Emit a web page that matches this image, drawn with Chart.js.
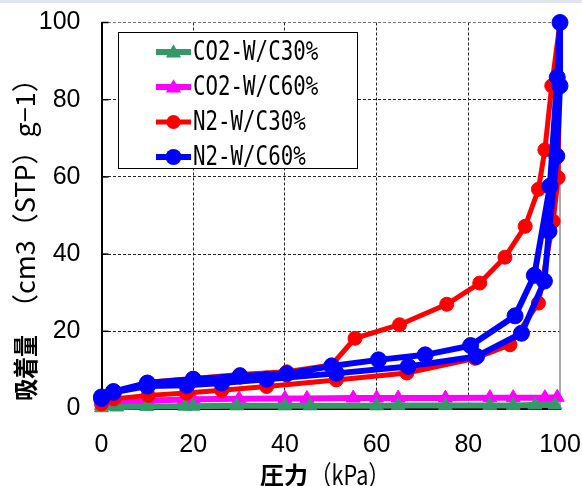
<!DOCTYPE html>
<html>
<head>
<meta charset="utf-8">
<script src="https://cdn.jsdelivr.net/npm/chart.js@4.4.1/dist/chart.umd.min.js"></script>
<style>
  html, body { margin: 0; padding: 0; background: #fff; }
  #wrap { position: relative; width: 582px; height: 486px; overflow: hidden; }
  #topline { position: absolute; left: 0; top: 0; width: 582px; height: 3px; background: #dfe4ee; }
  canvas { position: absolute; left: 0; top: 0; }
</style>
</head>
<body>
<div id="wrap">
  <canvas id="chart" width="582" height="486"></canvas>
  <div id="topline"></div>
</div>
<script>
const seriesNames = ["CO2-W/C30%", "CO2-W/C60%", "N2-W/C30%", "N2-W/C60%"];
const axisTicks = [0, 20, 40, 60, 80, 100];

// CO2-W/C30% (green)
const co2c30X = [0, 3.3, 9.9, 18.2, 20, 29.5, 40, 45.5, 60, 64.7, 75, 84.7, 89.8, 94.5, 98.9];
const co2c30Y = [0.2, 0.4, 0.5, 0.6, 0.6, 0.7, 0.7, 0.7, 0.7, 0.8, 0.8, 0.8, 0.8, 0.9, 0.9];

// CO2-W/C60% (magenta)
const co2c60X = [0, 3, 10, 18, 20, 30, 40, 44.8, 54.9, 60, 64.7, 75, 84.7, 89.8, 96.7, 99.4];
const co2c60Y = [0.8, 1.5, 2.0, 2.3, 2.4, 2.5, 2.6, 2.6, 2.7, 2.7, 2.7, 2.7, 2.8, 2.8, 2.8, 2.9];

// N2-W/C30% (red): adsorption up, then desorption back down
const n2c30X = [0, 2.7, 10.2, 18.5, 26.2, 36, 51.2, 66.6, 81.5, 89.1, 95.3, 98.5, 99.6, 100,
                98.2, 96.7, 95.3, 92.4, 88.0, 82.5, 75.3, 65.0, 55.3, 50.2, 40.4, 30.2, 20, 10];
const n2c30Y = [1.2, 2.5, 3.4, 4.0, 4.7, 5.7, 7.4, 9.2, 13.0, 16.5, 27.3, 48.5, 59.8, 100,
                83.6, 67.0, 56.8, 47.2, 39.2, 32.5, 27.0, 21.7, 18.2, 11.3, 9.5, 8.8, 7.8, 6.8];

// N2-W/C60% (blue)
const n2c60X = [0, 2.6, 10.0, 18.6, 26.2, 36, 51.2, 66.9, 81.8, 91.6, 96.6, 97.6, 99.3, 100, 100,
                99.4, 97.8, 94.4, 90.2, 80.5, 70.6, 60.4, 50.2, 40.4, 30.2, 20, 10, 2.6, 0];
const n2c60Y = [2.6, 4.2, 5.8, 6.0, 6.6, 7.6, 9.1, 10.9, 13.5, 19.5, 33.0, 45.9, 65.4, 83.6, 100,
                85.8, 57.6, 34.5, 24.0, 16.3, 13.9, 12.6, 11.0, 9.0, 8.4, 7.6, 6.6, 4.4, 3.0];

const colors = ["#339966", "#ff00ff", "#ff0000", "#0000ff"];

function pts(xs, ys) {
  return xs.map((x, i) => ({ x: x, y: ys[i] }));
}

const datasets = [
  { label: seriesNames[0], data: pts(co2c30X, co2c30Y), borderColor: colors[0], backgroundColor: colors[0],
    borderWidth: 6, pointStyle: "triangle", pointRadius: 8, order: 2 },
  { label: seriesNames[1], data: pts(co2c60X, co2c60Y), borderColor: colors[1], backgroundColor: colors[1],
    borderWidth: 6, pointStyle: "triangle", pointRadius: 8, order: 3 },
  { label: seriesNames[2], data: pts(n2c30X, n2c30Y), borderColor: colors[2], backgroundColor: colors[2],
    borderWidth: 5, pointStyle: "circle", pointRadius: 7, order: 1 },
  { label: seriesNames[3], data: pts(n2c60X, n2c60Y), borderColor: colors[3], backgroundColor: colors[3],
    borderWidth: 6, pointStyle: "circle", pointRadius: 8, order: 0 }
];
datasets.forEach(d => {
  d.showLine = true;
  d.pointBorderWidth = 1;
  d.clip = false;
  d.tension = 0;
});

const tickFont = { family: '"Liberation Sans", Arial, sans-serif', size: 25 };

// legend, axis titles, right edge and inner tick marks
const extras = {
  id: "extras",
  beforeDatasetsDraw(chart) {
    const { ctx, chartArea: a } = chart;
    const ys = chart.scales.y;
    ctx.save();
    ctx.strokeStyle = "#8c8c8c";
    ctx.lineWidth = 1.5;
    ctx.beginPath();
    ctx.moveTo(a.right, a.top);
    ctx.lineTo(a.right, a.bottom);
    ctx.stroke();
    ctx.strokeStyle = "#000";
    ctx.lineWidth = 1.5;
    axisTicks.forEach(v => {
      const py = ys.getPixelForValue(v);
      ctx.beginPath();
      ctx.moveTo(a.left, py);
      ctx.lineTo(a.left + 7, py);
      ctx.stroke();
    });
    ctx.restore();
  },
  afterDraw(chart) {
    const ctx = chart.ctx;
    ctx.save();

    // legend box
    const bx = 118, by = 32, bw = 239, bh = 136;
    ctx.fillStyle = "#fff";
    ctx.fillRect(bx, by, bw, bh);
    ctx.strokeStyle = "#000";
    ctx.lineWidth = 1;
    ctx.strokeRect(bx + 0.5, by + 0.5, bw, bh);
    const rows = [52, 87, 122, 157];
    chart.data.datasets.forEach((d, i) => {
      const y = rows[i];
      ctx.strokeStyle = d.borderColor;
      ctx.lineWidth = d.borderWidth;
      ctx.beginPath();
      ctx.moveTo(156, y);
      ctx.lineTo(191, y);
      ctx.stroke();
      ctx.fillStyle = d.backgroundColor;
      const r = d.pointRadius;
      ctx.beginPath();
      if (d.pointStyle === "circle") {
        ctx.arc(173.5, y, r, 0, Math.PI * 2);
      } else {
        for (let k = 0; k < 3; k++) {
          const ang = k * 2 * Math.PI / 3;
          const px = 173.5 + Math.sin(ang) * r * 1.1;
          const py = y + 1 - Math.cos(ang) * r * 1.1;
          if (k === 0) ctx.moveTo(px, py); else ctx.lineTo(px, py);
        }
        ctx.closePath();
      }
      ctx.fill();
      ctx.save();
      ctx.translate(193, y + 1);
      ctx.scale(0.8, 1);
      ctx.fillStyle = "#000";
      ctx.font = '26px "DejaVu Sans Mono", monospace';
      ctx.textBaseline = "middle";
      ctx.textAlign = "left";
      ctx.fillText(d.label, 0, 0);
      ctx.restore();
    });

    // x axis title
    ctx.fillStyle = "#000";
    ctx.textBaseline = "middle";
    ctx.textAlign = "left";
    ctx.font = 'bold 24px "Noto Sans CJK JP"';
    ctx.fillText("圧力", 260, 475);
    ctx.save();
    ctx.translate(310, 475);
    ctx.scale(0.8, 1);
    ctx.font = '27px "Noto Sans CJK JP"';
    ctx.fillText("（kPa）", 0, 0);
    ctx.restore();

    // y axis title
    ctx.save();
    ctx.translate(25, 401);
    ctx.rotate(-Math.PI / 2);
    ctx.save();
    ctx.scale(0.88, 1);
    ctx.font = 'bold 25px "Noto Sans CJK JP"';
    ctx.fillText("吸着量", 0, 0);
    ctx.restore();
    ctx.font = '27px "Noto Sans CJK JP"';
    ctx.fillText("（cm3（STP）g−1）", 80, 0);
    ctx.restore();

    ctx.restore();
  }
};

new Chart(document.getElementById("chart"), {
  type: "scatter",
  data: { datasets: datasets },
  options: {
    responsive: false,
    devicePixelRatio: 1,
    animation: false,
    layout: { padding: { left: 0, right: 22, top: 22.5, bottom: 0 } },
    plugins: { legend: { display: false }, tooltip: { enabled: false } },
    scales: {
      x: {
        type: "linear", min: 0, max: 100,
        afterFit: s => { s.height = 77.5; s.paddingLeft = 0; s.paddingRight = 0; },
        ticks: { stepSize: 20, color: "#000", font: tickFont, padding: 22 },
        grid: {
          drawTicks: false,
          color: c => (c.tick && (c.tick.value === 0 || c.tick.value === 100)) ? "rgba(0,0,0,0)" : "#222",
          lineWidth: 1
        },
        border: { color: "#000", width: 2, dash: [3, 2] }
      },
      y: {
        type: "linear", min: 0, max: 100,
        afterFit: s => { s.width = 101.5; s.paddingTop = 0; s.paddingBottom = 0; },
        ticks: { stepSize: 20, color: "#000", font: tickFont, padding: 21 },
        grid: {
          drawTicks: false,
          color: c => (c.tick && c.tick.value === 0) ? "rgba(0,0,0,0)" : (c.tick && c.tick.value === 100 ? "#777" : "#222"),
          lineWidth: 1
        },
        border: { color: "#000", width: 2, dash: [3, 2] }
      }
    }
  },
  plugins: [extras]
});
</script>
</body>
</html>
